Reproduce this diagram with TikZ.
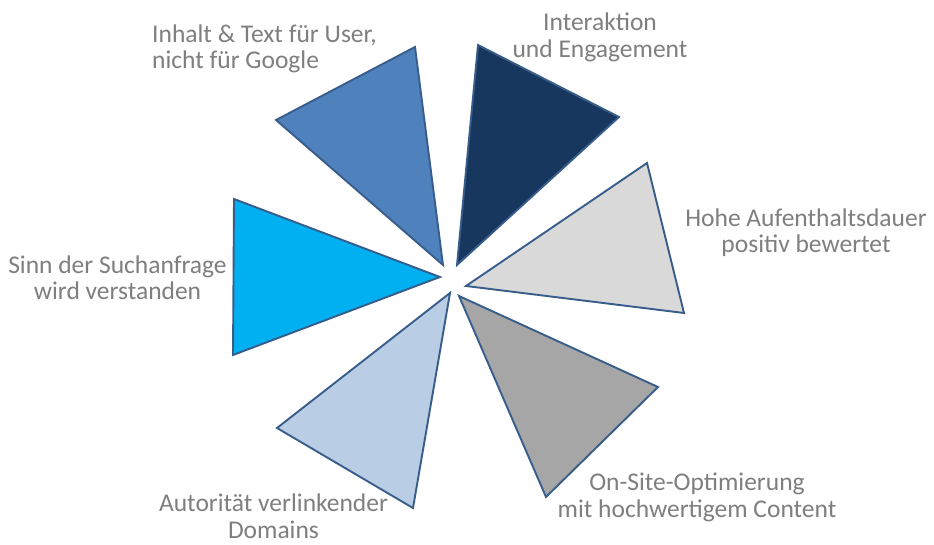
\documentclass[tikz,border=0pt]{standalone}
\usepackage{fontspec}
\setmainfont{Carlito}
\definecolor{edge}{HTML}{385D8A}
\definecolor{midblue}{HTML}{4F81BD}
\definecolor{navy}{HTML}{17375E}
\definecolor{lightgray}{HTML}{D9D9D9}
\definecolor{brightblue}{HTML}{00B0F0}
\definecolor{paleblue}{HTML}{B9CDE5}
\definecolor{midgray}{HTML}{A6A6A6}
\definecolor{labelgray}{HTML}{7F7F7F}
\tikzset{
  wedge/.style={draw=edge, line width=1.9pt, line join=miter},
  % anchor=base sits on the baseline of the last line
  label/.style={text=labelgray, inner sep=0pt, anchor=base, font=\fontsize{25.5}{26.5}\selectfont}
}
\begin{document}
\begin{tikzpicture}[x=1pt,y=-1pt]
\useasboundingbox[fill=white] (0,0) rectangle (934,545);
% six triangles pointing to a common centre
\path[wedge, fill=midblue]    (276,120) -- (415,47) -- (443,265) -- cycle;
\path[wedge, fill=navy]       (478,45) -- (619,117) -- (457,265) -- cycle;
\path[wedge, fill=lightgray]  (647,163) -- (684,313) -- (466,286) -- cycle;
\path[wedge, fill=brightblue] (234,199) -- (440,277) -- (233,355) -- cycle;
\path[wedge, fill=paleblue]   (450,293) -- (413,508) -- (277,428) -- cycle;
\path[wedge, fill=midgray]    (459,296) -- (658,387) -- (546,497) -- cycle;
% labels
\node[label, align=left, anchor=base west] (inhalt) at (152,69) {Inhalt \& Text für User,\\nicht für Google};
\node[label, align=center] (interaktion) at (600,57.5) {Interaktion\\und Engagement};
\node[label, align=center] (dauer) at (806,253) {Hohe Aufenthaltsdauer\\positiv bewertet};
\node[label, align=center] (sinn) at (117.5,300) {Sinn der Suchanfrage\\wird verstanden};
\node[label, align=center] (autoritaet) at (273.5,538) {Autorität verlinkender\\Domains};
\node[label, align=center] (onsite) at (697,517) {On-Site-Optimierung\\mit hochwertigem Content};
\end{tikzpicture}
\end{document}
